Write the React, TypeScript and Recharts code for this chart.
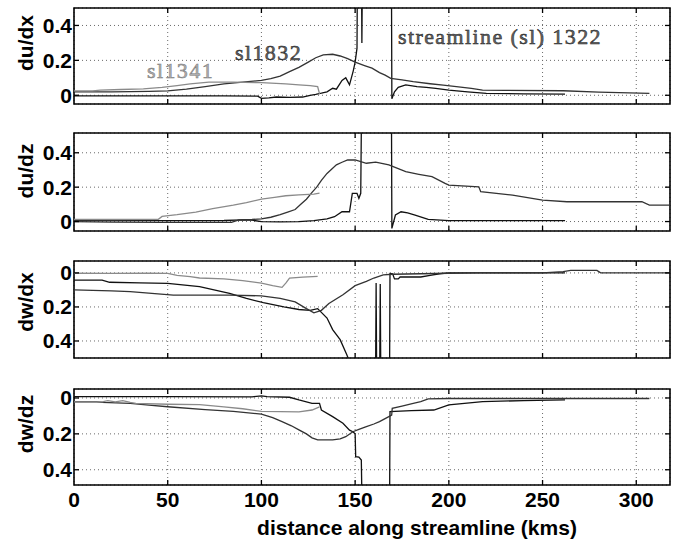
import React from 'react';
import { LineChart, Line, XAxis, YAxis, CartesianGrid, ReferenceArea, ReferenceLine } from 'recharts';

type Pt = [number, number];

const xTicks = [0, 50, 100, 150, 200, 250, 300];
const xDomain: [number, number] = [0, 318];
const upperTicks = [0, 0.2, 0.4];
const lowerTicks = [0, -0.2, -0.4];

const panelNames = ['du/dx', 'du/dz', 'dw/dx', 'dw/dz'];
const seriesNames = ['sl1322', 'sl1832', 'sl1341'];
const xTitle = 'distance along streamline (kms)';

// ---- du/dx ----
const duDx_sl1322: Pt[] = [[0,-0.003],[20,-0.003],[50,-0.004],[80,-0.004],[98,-0.005],[100,-0.018],[104,-0.015],[108,-0.01],[115,-0.012],[122,-0.01],[126,0.0],[129,0.005],[132,0.012],[135,0.02],[138,0.04],[140,0.035],[143,0.085],[145,0.1],[147,0.06],[149,0.14],[150,0.19],[151,0.27],[151.3,0.9],[153.3,0.9],[153.6,0.3],[154,0.9],[169.3,0.9],[169.6,-0.02],[171,0.02],[173,0.045],[177,0.059],[183,0.05],[188,0.045],[193,0.04],[200,0.03],[210,0.02],[220,0.011],[240,0.008],[262,0.006]];
const duDx_sl1832: Pt[] = [[0,0.02],[20,0.02],[40,0.022],[50,0.025],[60,0.035],[70,0.05],[80,0.065],[90,0.075],[100,0.085],[105,0.095],[110,0.11],[115,0.135],[120,0.16],[125,0.19],[129,0.215],[133,0.232],[138,0.235],[142,0.225],[146,0.21],[150,0.19],[155,0.17],[159,0.155],[163,0.13],[166,0.115],[169,0.097],[175,0.088],[181,0.078],[190,0.066],[197,0.058],[204,0.049],[212,0.04],[218,0.03],[230,0.028],[261,0.026],[280,0.018],[307,0.011]];
const duDx_sl1341: Pt[] = [[0,0.025],[10,0.025],[14,0.03],[25,0.033],[37,0.037],[47,0.045],[55,0.055],[62,0.065],[72,0.075],[85,0.075],[100,0.072],[113,0.065],[120,0.06],[126,0.055],[130,0.05],[131,0.008]];

// ---- du/dz ----
const duDz_sl1322: Pt[] = [[0,0.005],[30,0.005],[60,0.005],[80,0.006],[90,0.01],[95,0.008],[100,-0.001],[110,-0.002],[120,0.0],[128,0.005],[135,0.015],[139,0.028],[143,0.057],[147,0.057],[148.5,0.164],[151,0.164],[152,0.135],[153,0.164],[153.6,0.9],[169.3,0.9],[169.6,-0.04],[171.5,0.038],[174.5,0.057],[178,0.05],[182,0.038],[189,0.013],[200,0.005],[262,0.005]];
const duDz_sl1832: Pt[] = [[0,0.0],[20,-0.003],[47,-0.005],[70,-0.005],[84,-0.005],[88,0.01],[95,0.012],[100,0.015],[105,0.025],[110,0.04],[114,0.055],[118,0.07],[121,0.1],[124,0.13],[127,0.17],[129.5,0.2],[132,0.24],[135,0.28],[137,0.3],[140,0.33],[143,0.345],[146,0.358],[150,0.358],[156,0.339],[161,0.345],[168,0.329],[177,0.29],[184,0.275],[191,0.261],[198,0.222],[200,0.212],[216,0.202],[217,0.174],[234,0.154],[250,0.125],[263,0.115],[303,0.115],[307,0.096],[318,0.096]];
const duDz_sl1341: Pt[] = [[0,0.012],[20,0.012],[45,0.013],[47,0.03],[55,0.04],[65,0.055],[74,0.075],[85,0.095],[92,0.11],[100,0.13],[107,0.14],[113,0.15],[120,0.155],[128,0.16],[131,0.165]];

// ---- dw/dx ----
const dwDx_sl1322: Pt[] = [[0,-0.042],[15,-0.042],[19,-0.055],[35,-0.058],[50,-0.061],[67,-0.081],[83,-0.12],[92,-0.15],[101,-0.175],[112,-0.2],[120,-0.215],[126,-0.22],[130,-0.21],[135,-0.265],[138,-0.333],[142,-0.392],[145.5,-0.48],[147,-0.52],[148,-0.8],[160.8,-0.8],[161.2,-0.06],[161.6,-0.8],[163,-0.8],[163.4,-0.065],[163.8,-0.8],[168.3,-0.8],[168.6,-0.003],[170,-0.005],[171,-0.035],[173,-0.035],[174,-0.024],[185,-0.024],[190,-0.015],[195,-0.005],[200,0],[262,0]];
const dwDx_sl1832: Pt[] = [[0,-0.1],[20,-0.105],[30,-0.11],[53,-0.13],[83,-0.13],[100,-0.135],[110,-0.15],[118,-0.17],[124,-0.21],[128,-0.235],[132,-0.22],[136,-0.18],[143.5,-0.128],[150,-0.075],[156,-0.05],[160,-0.03],[165,-0.012],[170,-0.008],[185,-0.005],[200,-0.002],[216,0],[250,0],[261,0.008],[265,0.015],[279,0.015],[281,0],[318,0]];
const dwDx_sl1341: Pt[] = [[0,-0.002],[20,-0.003],[40,-0.002],[50,-0.003],[55,-0.015],[62,-0.022],[67,-0.03],[80,-0.035],[90,-0.045],[100,-0.06],[106,-0.075],[111,-0.085],[113,-0.06],[115,-0.03],[122,-0.025],[130,-0.02]];

// ---- dw/dz ----
const dwDz_sl1322: Pt[] = [[0,0.007],[50,0.007],[95,0.006],[100,0.012],[103,0.007],[115,0.004],[120,-0.011],[127,-0.03],[131,-0.03],[132,-0.067],[138,-0.104],[143.5,-0.141],[147,-0.179],[148.8,-0.188],[150,-0.2],[150.3,-0.327],[152,-0.33],[153.3,-0.346],[154,-0.8],[168.3,-0.8],[168.6,-0.076],[180,-0.07],[192,-0.067],[200,-0.039],[218,-0.02],[240,-0.015],[262,-0.011]];
const dwDz_sl1832: Pt[] = [[0,-0.021],[12,-0.021],[15,-0.025],[30,-0.03],[40,-0.04],[50,-0.049],[70,-0.065],[85,-0.075],[100,-0.09],[106,-0.11],[111,-0.132],[116,-0.155],[120,-0.178],[124,-0.2],[127,-0.222],[130,-0.234],[138,-0.234],[142,-0.228],[145,-0.216],[148.8,-0.188],[152,-0.175],[156,-0.16],[160,-0.145],[163,-0.132],[166,-0.115],[169.5,-0.095],[169.8,-0.058],[175,-0.045],[181,-0.03],[185,-0.02],[189,-0.005],[200,-0.003],[250,-0.003],[307,-0.003]];
const dwDz_sl1341: Pt[] = [[0,-0.022],[15,-0.022],[18,-0.015],[22,-0.022],[26,-0.015],[30,-0.025],[33,-0.03],[50,-0.035],[67,-0.037],[80,-0.05],[90,-0.06],[100,-0.075],[120,-0.077],[127,-0.067],[131,-0.05]];

const seriesColors = ['#111111', '#333333', '#8a8a8a'];

const toData = (pts: Pt[]) => pts.map(([x, y]) => ({ x, y }));

const FONT = '"Liberation Sans", Arial, Helvetica, sans-serif';
const SERIF = '"Liberation Serif", "Times New Roman", serif';

const PLOT_WIDTH_PX = 596;
const TICK_PX = 5;

interface PanelSpec {
  top: number;
  plotHeight: number;
  domain: [number, number];
  ticks: number[];
  series: Pt[][];
  showX: boolean;
}

const panels: PanelSpec[] = [
  { top: 8, plotHeight: 96, domain: [-0.05, 0.5], ticks: upperTicks, series: [duDx_sl1322, duDx_sl1832, duDx_sl1341], showX: false },
  { top: 133, plotHeight: 98, domain: [-0.055, 0.515], ticks: upperTicks, series: [duDz_sl1322, duDz_sl1832, duDz_sl1341], showX: false },
  { top: 261, plotHeight: 97, domain: [-0.5, 0.07], ticks: lowerTicks, series: [dwDx_sl1322, dwDx_sl1832, dwDx_sl1341], showX: false },
  { top: 389, plotHeight: 96, domain: [-0.485, 0.05], ticks: lowerTicks, series: [dwDz_sl1322, dwDz_sl1832, dwDz_sl1341], showX: true },
];

const tickStyle = { fontSize: 21, fontWeight: 700, fill: '#000', fontFamily: FONT };

function Panel({ spec }: { spec: PanelSpec }) {
  const padTop = 4;
  const padBottom = 4;
  const xAxisHeight = spec.showX ? 46 : 0;
  const height = spec.plotHeight + padTop + padBottom + xAxisHeight;
  const [dMin, dMax] = spec.domain;
  const dy = (TICK_PX * (dMax - dMin)) / spec.plotHeight;
  const dx = (TICK_PX * (xDomain[1] - xDomain[0])) / PLOT_WIDTH_PX;
  const inner = xTicks.filter((t) => t > xDomain[0] && t < xDomain[1]);
  return (
    <div style={{ position: 'absolute', left: 0, top: spec.top - padTop }}>
      <LineChart width={673} height={height} margin={{ top: padTop, right: 3, bottom: padBottom, left: 0 }}>
        <CartesianGrid stroke="#6a6a6a" strokeDasharray="1 3" strokeWidth={1} />
        <XAxis
          type="number"
          dataKey="x"
          domain={xDomain}
          ticks={xTicks}
          allowDataOverflow
          hide={!spec.showX}
          height={xAxisHeight}
          axisLine={false}
          tickLine={false}
          tickSize={0}
          tickMargin={7}
          tick={tickStyle}
          interval={0}
        />
        <YAxis
          type="number"
          domain={spec.domain}
          ticks={spec.ticks}
          allowDataOverflow
          width={74}
          axisLine={false}
          tickLine={false}
          tickSize={0}
          tickMargin={2}
          interval={0}
          tick={tickStyle}
          tickFormatter={(v: number) => String(Math.abs(v))}
        />
        {spec.series.map((pts, i) => (
          <Line
            key={seriesNames[i]}
            name={seriesNames[i]}
            data={toData(pts)}
            dataKey="y"
            type="linear"
            stroke={seriesColors[i]}
            strokeWidth={1.3}
            dot={false}
            activeDot={false}
            isAnimationActive={false}
          />
        ))}
        {inner.map((t) => (
          <ReferenceLine key={`b${t}`} segment={[{ x: t, y: dMin }, { x: t, y: dMin + dy }]} stroke="#000" strokeWidth={1.3} ifOverflow="visible" />
        ))}
        {inner.map((t) => (
          <ReferenceLine key={`t${t}`} segment={[{ x: t, y: dMax - dy }, { x: t, y: dMax }]} stroke="#000" strokeWidth={1.3} ifOverflow="visible" />
        ))}
        {spec.ticks.map((t) => (
          <ReferenceLine key={`l${t}`} segment={[{ x: xDomain[0], y: t }, { x: xDomain[0] + dx, y: t }]} stroke="#000" strokeWidth={1.3} ifOverflow="visible" />
        ))}
        {spec.ticks.map((t) => (
          <ReferenceLine key={`r${t}`} segment={[{ x: xDomain[1] - dx, y: t }, { x: xDomain[1], y: t }]} stroke="#000" strokeWidth={1.3} ifOverflow="visible" />
        ))}
        <ReferenceArea
          x1={xDomain[0]}
          x2={xDomain[1]}
          y1={dMin}
          y2={dMax}
          fill="none"
          fillOpacity={0}
          stroke="#000"
          strokeWidth={1.6}
          ifOverflow="visible"
        />
      </LineChart>
    </div>
  );
}

const yLabelCenters = [43, 171, 302, 424];

export default function App() {
  return (
    <div style={{ position: 'absolute', left: 0, top: 0, width: 673, height: 544, background: '#fff', overflow: 'hidden' }}>
      {panels.map((p, i) => (
        <Panel key={panelNames[i]} spec={p} />
      ))}
      <svg width={673} height={544} style={{ position: 'absolute', left: 0, top: 0, pointerEvents: 'none' }}>
        {panelNames.map((n, i) => (
          <text
            key={n}
            x={25}
            y={yLabelCenters[i]}
            transform={`rotate(-90 25 ${yLabelCenters[i]})`}
            textAnchor="middle"
            dominantBaseline="central"
            fontFamily={FONT}
            fontWeight={700}
            fontSize={21}
            fill="#000"
          >
            {n}
          </text>
        ))}
        <text x={417} y={535} textAnchor="middle" fontFamily={FONT} fontWeight={700} fontSize={21} fill="#000">
          {xTitle}
        </text>
        <text x={398} y={44} fontFamily={SERIF} fontSize={22} letterSpacing={1.4} fill="#666" stroke="#222" strokeWidth={0.5}>
          streamline (sl) 1322
        </text>
        <text x={235} y={60} fontFamily={SERIF} fontSize={22} letterSpacing={1.4} fill="#666" stroke="#222" strokeWidth={0.5}>
          sl1832
        </text>
        <text x={147} y={78} fontFamily={SERIF} fontSize={22} letterSpacing={1.4} fill="#b0b0b0" stroke="#7a7a7a" strokeWidth={0.5}>
          sl1341
        </text>
      </svg>
    </div>
  );
}
